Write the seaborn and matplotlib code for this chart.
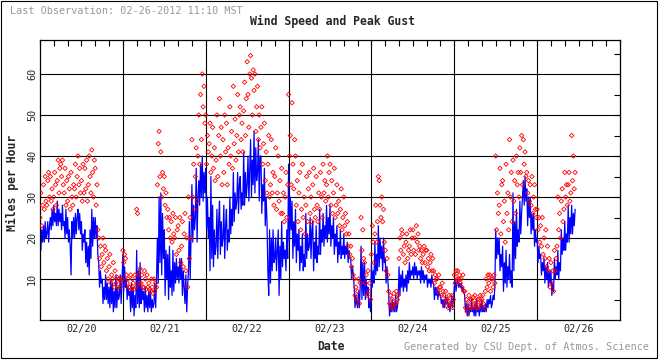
import pandas as pd
import matplotlib
matplotlib.use('Agg')
import matplotlib.pyplot as plt
import matplotlib.dates as mdates
from matplotlib.patches import Rectangle
import seaborn as sns

# Wind speed (mph), one value every 15 minutes, one list per day
wind_0220 = [24, 17, 22, 19, 23, 19, 24, 20, 21, 24, 19, 23, 25, 22, 27, 23,
             28, 24, 26, 23, 29, 23, 27, 24, 26, 22, 28, 23, 24, 20, 27, 21,
             25, 19, 22, 18, 11, 24, 20, 25, 20, 26, 21, 25, 27, 22, 26, 21,
             24, 17, 21, 19, 22, 14, 19, 13, 18, 11, 22, 15, 27, 18, 25, 20,
             25, 20, 23, 16, 14, 8, 12, 9, 10, 4, 8, 5, 11, 5, 9, 4,
             8, 3, 10, 4, 9, 2, 7, 3, 11, 3, 8, 5, 6, 11, 4, 9]
wind_0221 = [16, 7, 13, 8, 10, 5, 8, 6, 7, 2, 9, 3, 8, 1, 6, 3,
             17, 4, 12, 3, 14, 4, 8, 5, 7, 2, 8, 3, 6, 2, 7, 3,
             7, 2, 5, 3, 4, 9, 3, 10, 20, 9, 30, 14, 31, 11, 26, 15,
             22, 6, 17, 10, 16, 5, 18, 8, 12, 6, 17, 7, 14, 9, 15, 10,
             13, 9, 15, 10, 15, 6, 12, 8, 4, 11, 2, 8, 12, 24, 10, 20,
             33, 19, 28, 22, 25, 37, 19, 30, 34, 28, 38, 30, 40, 29, 36, 31]
wind_0222 = [37, 22, 30, 20, 25, 12, 35, 15, 28, 13, 22, 16, 18, 27, 15, 24,
             29, 16, 24, 18, 20, 28, 15, 23, 27, 17, 22, 19, 30, 21, 27, 23,
             36, 24, 31, 27, 29, 36, 26, 33, 35, 27, 31, 28, 41, 28, 36, 30,
             33, 40, 29, 37, 44, 30, 39, 33, 46, 31, 42, 34, 36, 44, 29, 40,
             40, 26, 33, 29, 37, 23, 30, 24, 12, 6, 22, 9, 20, 12, 22, 14,
             15, 20, 12, 17, 22, 6, 18, 10, 24, 13, 19, 15, 17, 12, 22, 15]
wind_0223 = [38, 19, 30, 22, 29, 15, 24, 18, 27, 14, 21, 17, 22, 12, 18, 14,
             21, 12, 16, 13, 26, 15, 21, 17, 18, 25, 15, 22, 24, 12, 19, 15,
             23, 14, 18, 16, 27, 16, 22, 19, 26, 18, 23, 20, 28, 19, 25, 21,
             28, 18, 23, 20, 25, 16, 21, 18, 23, 14, 19, 16, 22, 15, 18, 16,
             21, 15, 18, 16, 19, 14, 17, 15, 15, 10, 13, 11, 8, 3, 6, 4,
             3, 7, 3, 8, 18, 5, 14, 6, 14, 5, 10, 6, 8, 3, 5, 2]
wind_0224 = [14, 8, 12, 9, 19, 11, 16, 12, 23, 13, 20, 15, 18, 12, 20, 14,
             15, 9, 13, 10, 6, 1, 4, 2, 5, 2, 4, 2, 6, 2, 3, 5,
             13, 6, 11, 8, 12, 7, 10, 8, 11, 7, 12, 9, 14, 10, 12, 11,
             13, 10, 14, 11, 13, 10, 12, 11, 12, 9, 13, 10, 12, 9, 11, 10,
             11, 8, 10, 9, 10, 8, 11, 9, 9, 5, 8, 6, 8, 5, 7, 6,
             6, 4, 5, 3, 5, 3, 6, 4, 5, 3, 4, 2, 4, 6, 3, 5]
wind_0225 = [8, 10, 7, 9, 10, 8, 9, 8, 9, 7, 8, 7, 6, 2, 4, 1,
             4, 1, 3, 2, 5, 2, 3, 1, 4, 1, 5, 2, 3, 1, 4, 2,
             5, 2, 3, 2, 4, 2, 5, 3, 5, 4, 6, 3, 4, 6, 5, 8,
             22, 15, 20, 16, 20, 12, 16, 13, 18, 7, 14, 9, 17, 8, 13, 10,
             16, 9, 12, 8, 31, 12, 24, 15, 27, 18, 22, 19, 29, 21, 26, 30,
             34, 28, 35, 29, 32, 23, 30, 25, 30, 21, 26, 22, 26, 18, 22, 19]
wind_0226 = [20, 14, 18, 15, 16, 11, 14, 12, 15, 9, 13, 10, 14, 8, 12, 9,
             12, 6, 9, 7, 15, 10, 13, 11, 17, 10, 14, 12, 22, 16, 20, 17,
             24, 17, 21, 19, 28, 19, 25, 21, 28, 21, 26, 23, 27]

# Peak gust (mph), same 15-minute steps
gust_0220 = [25, 31, 23, 28, 33, 27, 35, 29, 28, 34, 36, 30, 35, 29, 32, 27,
             30, 36, 33, 28, 34, 39, 31, 37, 38, 35, 39, 33, 31, 37, 28, 34,
             29, 35, 32, 27, 36, 30, 28, 33, 32, 38, 30, 35, 40, 33, 37, 31,
             34, 29, 38, 31, 37, 32, 39, 29, 33, 40, 35, 31, 41.5, 36, 30, 39,
             37, 28, 33, 22, 20, 15, 18, 13, 16, 20, 14, 18, 17, 12, 15, 10,
             13, 16, 9, 11, 10, 14, 8, 12, 9, 10.5, 8, 10, 10, 8, 9.5, 10]
gust_0221 = [17, 14, 16, 15, 11, 9, 10, 8, 8, 11, 7.5, 10, 9, 7.5, 11, 8,
             27, 26, 11, 9, 12.5, 9, 11, 8, 8, 12, 10, 7.5, 11, 8, 9, 7.5,
             7, 10, 8, 6.5, 10, 7, 9, 8, 33, 43, 46, 35, 41, 30, 36, 32,
             35, 28, 31, 25, 27, 22, 25, 20, 24, 19, 26, 21, 20, 25, 16, 22,
             23, 17, 25, 14, 18, 24, 13, 21, 26, 12, 20, 8, 30, 15, 25, 20,
             44, 30, 38, 27, 35, 42, 29, 40, 50, 38, 55, 44, 60, 52, 57, 48]
gust_0222 = [50, 38, 45, 41, 43, 48, 36, 40, 47, 37, 42, 34, 39, 50, 35, 45,
             54, 40, 47, 33, 44, 36, 50, 41, 48, 33, 42, 38, 52, 40, 46, 37,
             57, 43, 49, 39, 45, 55, 41, 50, 52, 44, 48, 41, 51, 58, 45, 54,
             63, 55, 47, 60, 64.5, 59, 50, 61, 56, 60, 46, 52, 57, 44, 50, 42,
             47, 52, 38, 43, 48, 34, 41, 31, 38, 45, 30, 33, 44, 31, 36, 28,
             35, 42, 27, 31, 40, 29, 34, 26, 37, 26, 31, 24, 30, 36, 25, 33]
gust_0223 = [55, 40, 45, 33, 53, 38, 32, 44, 40, 28, 34, 24, 31, 36, 22, 27,
             38, 25, 30, 21, 28, 35, 24, 32, 36, 26, 30, 24, 33, 37, 27, 25,
             35, 28, 24, 31, 27, 36, 30, 25, 38, 31, 34, 29, 33, 40, 30, 36,
             38, 28, 34, 26, 31, 37, 25, 28, 33, 26, 29, 23, 27, 32, 22, 25,
             30, 23, 26, 21, 24, 18, 21, 16, 18, 13, 15, 11, 10, 6, 8, 5,
             7, 10, 4, 9, 25, 17, 22, 15, 14, 9, 11, 6, 12, 7, 9, 5]
gust_0224 = [16, 23, 19, 14, 21, 28, 19, 24, 35, 34, 28, 25, 30, 24, 27, 19,
             17, 12, 15, 11, 7, 4, 6, 3, 5, 3, 6.5, 4, 4, 7, 5, 6,
             15, 20, 17, 22, 21, 16, 18, 14, 19, 21, 15, 17, 18, 22, 16, 20,
             22, 17, 20, 16, 23, 19, 21, 17, 18, 15, 17, 14, 16, 18, 14, 17,
             17, 13, 15, 12, 14, 16, 12, 15, 12, 9, 11, 10, 10, 7, 11, 8,
             8, 6, 9, 7, 6, 4, 7, 5, 5, 3, 6, 4, 4, 6, 3, 5]
gust_0225 = [11, 9, 12, 10, 12, 10, 11, 9, 10, 8, 11, 7, 7, 3, 5, 2,
             4, 6, 3, 5, 5, 3, 5.5, 4, 6, 4, 3, 5, 3, 5, 6, 4,
             5, 6, 4, 3, 7, 10, 8, 11, 9, 11, 7, 10, 10, 8, 11, 9,
             40, 22, 31, 26, 28, 37, 21, 33, 34, 24, 29, 19, 38, 26, 31, 22,
             44, 30, 36, 24, 39, 29, 34, 26, 40, 33, 36, 30, 42, 36, 45, 33,
             44, 38, 41, 35, 36, 31, 34, 29, 33, 28, 35, 26, 30, 33, 27, 25]
gust_0226 = [27, 22, 25, 19, 23, 18, 25, 16, 20, 15, 22, 13, 18, 12, 15, 8,
             14, 9, 12, 7, 17, 12, 15, 18, 30, 22, 26, 20, 29, 32, 24, 27,
             36, 30, 33, 28, 33, 36, 29, 31, 45, 34, 40, 32, 36]

day_labels = ['02/20', '02/21', '02/22', '02/23', '02/24', '02/25', '02/26']
y_ticks = [10, 20, 30, 40, 50, 60]

wind = wind_0220 + wind_0221 + wind_0222 + wind_0223 + wind_0224 + wind_0225 + wind_0226
gust = gust_0220 + gust_0221 + gust_0222 + gust_0223 + gust_0224 + gust_0225 + gust_0226
times = pd.date_range('2012-02-20 00:00', periods=len(wind), freq='15min')
df = pd.DataFrame({'time': times, 'wind': wind, 'gust': gust})
days = pd.to_datetime(['2012/' + d for d in day_labels])

sns.set_style('white')
plt.rcParams['font.family'] = ['DejaVu Sans Mono']

fig = plt.figure(figsize=(6.6, 3.6), dpi=100)
ax = fig.add_axes([40 / 660, 40 / 360, 580 / 660, 280 / 360])

sns.lineplot(data=df, x='time', y='wind', color='#0000ff', lw=0.9,
             estimator=None, ax=ax, zorder=2)
sns.scatterplot(data=df, x='time', y='gust', marker='D', s=5,
                color='red', linewidth=0.6, ax=ax, zorder=3)
coll = ax.collections[-1]
coll.set_facecolor('none')
coll.set_edgecolor('red')

# day boundaries and horizontal grid
for d in days[1:]:
    ax.axvline(d, color='black', lw=0.8, zorder=1)
for v in y_ticks:
    ax.axhline(v, color='black', lw=0.8, zorder=1)

ax.set_xlim(days[0], days[-1] + pd.Timedelta(days=1))
ax.set_ylim(0, 68.3)

ax.xaxis.set_major_locator(mdates.HourLocator(byhour=[12]))
ax.xaxis.set_major_formatter(mdates.DateFormatter('%m/%d'))
ax.xaxis.set_minor_locator(mdates.HourLocator(byhour=range(0, 24, 4)))
ax.set_yticks(y_ticks)
ax.set_yticks([5, 15, 25, 35, 45, 55, 65], minor=True)

ax.tick_params(axis='both', which='both', direction='in', top=True, right=True,
               length=4, width=0.8, color='black', labelsize=7.3)
ax.tick_params(axis='x', pad=3)
ax.tick_params(axis='y', labelrotation=90, pad=2)
for lab in ax.get_yticklabels():
    lab.set_va('center')

for s in ax.spines.values():
    s.set_color('black')
    s.set_linewidth(0.9)

ax.set_xlabel('')
ax.set_ylabel('')

fig.text(10 / 660, 1 - 11.5 / 360, 'Last Observation: 02-26-2012 11:10 MST',
         ha='left', va='center', fontsize=7.3, color='#999999')
fig.text(333 / 660, 1 - 21 / 360, 'Wind Speed and Peak Gust',
         ha='center', va='center', fontsize=8.3, fontweight='bold')
fig.text(331 / 660, 1 - 347 / 360, 'Date', ha='center', va='center',
         fontsize=8.3, fontweight='bold')
fig.text(649 / 660, 1 - 347 / 360, 'Generated by CSU Dept. of Atmos. Science',
         ha='right', va='center', fontsize=7.3, color='#999999')
fig.text(12.5 / 660, 1 - 183 / 360, 'Miles per Hour', ha='center', va='center',
         rotation=90, fontsize=8.3, fontweight='bold')

fig.patches.append(Rectangle((0.5 / 660, 2 / 360), 656 / 660, 357.5 / 360,
                             transform=fig.transFigure, fill=False,
                             edgecolor='black', lw=0.8))

fig.savefig('out.png', dpi=100)
